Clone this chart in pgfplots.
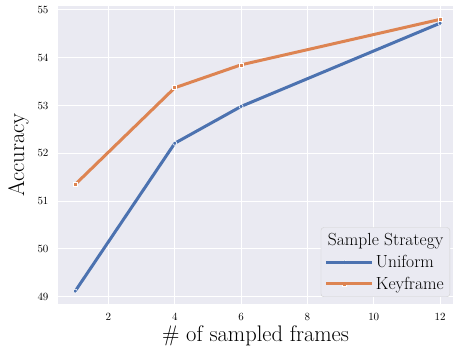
\documentclass[border=0pt]{standalone}
\usepackage{pgfplots}
\pgfplotsset{compat=1.18}
\definecolor{sbblue}{HTML}{4C72B0}
\definecolor{sborange}{HTML}{DD8452}
\definecolor{sbbg}{HTML}{EAEAF2}
\begin{document}
\begin{tikzpicture}
\begin{axis}[
 scale only axis, width=395pt, height=298pt,
 xmin=0.48, xmax=12.39, ymin=48.85, ymax=55.08,
 xtick={2,4,6,8,10,12}, ytick={49,50,51,52,53,54,55},
 axis background/.style={fill=sbbg},
 axis line style={draw=none},
 major tick length=0pt,
 grid=major, grid style={white, line width=1pt},
 tick label style={font=\fontsize{11}{13}\selectfont},
 xticklabel style={yshift=-6pt},
 yticklabel style={xshift=-6pt},
 xlabel={\# of sampled frames}, ylabel={Accuracy},
 label style={font=\fontsize{22.5}{26}\selectfont},
 ylabel style={yshift=2pt},
 xlabel style={yshift=2pt},
 legend style={at={(1,0)}, anchor=south east, xshift=-3pt, yshift=7pt,
   fill=sbbg, draw=black!18, rounded corners=3pt,
   font=\fontsize{17.5}{20}\selectfont, cells={anchor=west}, row sep=4pt,
   inner xsep=4pt, inner ysep=4pt},
 legend image code/.code={\draw[mark repeat=2,mark phase=2,#1] plot coordinates {(0pt,0pt) (18pt,0pt) (36pt,0pt)}; \path (0pt,0pt) -- (46pt,0pt);},
]
\addlegendimage{empty legend}
\addlegendentry{\makebox[0pt][l]{\hspace{-48pt}Sample Strategy}}
\addplot[sbblue, line width=3pt, mark=*, mark size=2pt, mark options={fill=sbblue, draw=white, line width=0.6pt}]
 coordinates {(1,49.12) (4,52.21) (6,52.98) (12,54.72)};
\addlegendentry{Uniform}
\addplot[sborange, line width=3pt, mark=square*, mark size=2pt, mark options={fill=sborange, draw=white, line width=0.6pt}]
 coordinates {(1,51.35) (4,53.37) (6,53.85) (12,54.80)};
\addlegendentry{Keyframe}
\end{axis}
\pgfresetboundingbox
\path (current axis.south west) ++(-58pt,-49pt) coordinate (bl);
\path (current axis.north east) ++(0pt,6pt) coordinate (tr);
\useasboundingbox (bl) rectangle (tr);
\end{tikzpicture}
\end{document}
